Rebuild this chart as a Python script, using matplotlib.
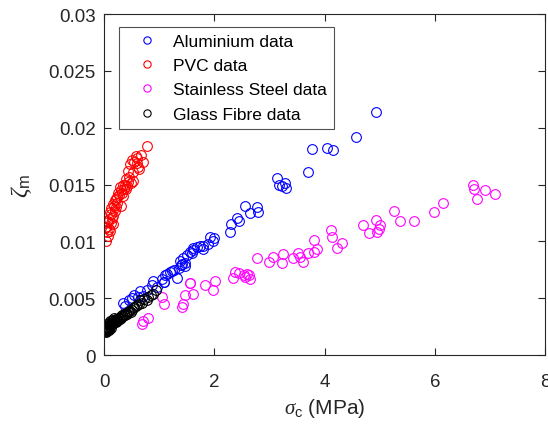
import matplotlib
matplotlib.use("Agg")
import matplotlib.pyplot as plt

plt.rcParams['font.family'] = ['Liberation Sans', 'DejaVu Sans']
plt.rcParams['mathtext.fontset'] = 'custom'
plt.rcParams['mathtext.rm'] = 'Liberation Sans'
plt.rcParams['mathtext.it'] = 'Liberation Serif:italic'

# Aluminium
al_x = [4.94, 4.57, 3.78, 4.04, 4.15, 3.70, 3.14, 3.18, 3.28, 3.30, 3.22,
        2.56, 2.77, 2.79, 2.65, 2.41, 2.44, 2.30, 2.28,
        1.93, 1.98, 1.89, 1.79, 1.80, 1.62, 1.59, 1.50, 1.44, 1.41, 1.47, 1.35,
        1.26, 1.32, 1.14, 1.09, 1.05, 0.89, 1.08, 0.96, 0.77, 0.65, 0.71, 0.62,
        0.38, 0.35, 1.23, 1.62, 1.74, 1.55, 1.68, 1.37, 1.40, 1.46, 1.19, 1.11,
        0.50, 0.55, 0.45, 0.87, 2.00]
al_y = [0.0214, 0.0192, 0.0181, 0.0182, 0.0180, 0.0161, 0.0156, 0.0150, 0.0151, 0.0147, 0.0149,
        0.0131, 0.0130, 0.0126, 0.0125, 0.0121, 0.0118, 0.0115, 0.0108,
        0.0104, 0.0100, 0.0098, 0.0096, 0.0093, 0.0094, 0.0090, 0.0088, 0.0085, 0.0080, 0.0078, 0.0077,
        0.0075, 0.0068, 0.0071, 0.0064, 0.0067, 0.0065, 0.0064, 0.0060, 0.0057, 0.0056, 0.0052, 0.0051,
        0.0043, 0.0046, 0.0074, 0.0092, 0.0096, 0.0091, 0.0095, 0.0083, 0.0079, 0.0081, 0.0073, 0.0070,
        0.0050, 0.0053, 0.0048, 0.0062, 0.0103]

# PVC
pvc_x = [0.78, 0.67, 0.57, 0.50, 0.62, 0.47, 0.44, 0.53, 0.44, 0.34, 0.28, 0.40, 0.25,
         0.34, 0.22, 0.31, 0.16, 0.19, 0.10, 0.15, 0.07, 0.16, 0.01, 0.10, 0.07, 0.04,
         0.38, 0.42, 0.36, 0.30, 0.32, 0.27, 0.23, 0.20, 0.24, 0.18, 0.13, 0.21, 0.12,
         0.17, 0.09, 0.05, 0.12, 0.03, 0.08, 0.06, 0.48, 0.55, 0.60, 0.70, 0.52, 0.40,
         0.46, 0.64, 0.59]
pvc_y = [0.0184, 0.0176, 0.0175, 0.0172, 0.0165, 0.0168, 0.0162, 0.0153, 0.0152, 0.0150, 0.0148, 0.0146, 0.0143,
         0.0140, 0.0137, 0.0131, 0.0133, 0.0127, 0.0126, 0.0121, 0.0117, 0.0115, 0.0112, 0.0109, 0.0105, 0.0100,
         0.0150, 0.0149, 0.0146, 0.0145, 0.0143, 0.0141, 0.0139, 0.0136, 0.0134, 0.0131, 0.0129, 0.0130, 0.0124,
         0.0122, 0.0120, 0.0118, 0.0116, 0.0113, 0.0111, 0.0108, 0.0151, 0.0170, 0.0173, 0.0170, 0.0161, 0.0155,
         0.0157, 0.0164, 0.0169]

# Stainless steel
ss_x = [7.09, 6.91, 6.77, 6.70, 6.71, 6.15, 5.98, 5.62, 5.37, 5.26, 5.00, 4.93, 4.99, 4.96,
        4.81, 4.69, 4.31, 4.23, 4.13, 4.11, 3.80, 3.87, 3.80, 3.70, 3.52, 3.43, 3.55, 3.60,
        3.24, 3.22, 2.78, 3.00, 3.07, 2.38, 2.33, 2.53, 2.60, 2.65, 2.45, 2.56, 2.62,
        2.01, 1.83, 1.97, 1.56, 1.47, 1.62, 1.44, 1.41, 1.05, 1.08, 0.80, 0.71, 0.68, 1.55]
ss_y = [0.0142, 0.0145, 0.0137, 0.0150, 0.0146, 0.0134, 0.0126, 0.0118, 0.0118, 0.0127, 0.0114, 0.0119, 0.0111, 0.0108,
        0.0107, 0.0114, 0.0099, 0.0094, 0.0104, 0.0110, 0.0101, 0.0093, 0.0091, 0.0090, 0.0090, 0.0085, 0.0086, 0.0082,
        0.0089, 0.0081, 0.0085, 0.0082, 0.0086, 0.0073, 0.0068, 0.0070, 0.0071, 0.0067, 0.0072, 0.0069, 0.0070,
        0.0065, 0.0062, 0.0057, 0.0063, 0.0053, 0.0054, 0.0045, 0.0042, 0.0051, 0.0045, 0.0033, 0.0030, 0.0027, 0.0063]

# Glass fibre
gf_x = [0.01, 0.02, 0.03, 0.04, 0.05, 0.06, 0.07, 0.08, 0.09, 0.10, 0.11, 0.12, 0.13, 0.14,
        0.15, 0.16, 0.17, 0.18, 0.19, 0.20, 0.21, 0.22, 0.23, 0.24, 0.25, 0.27, 0.28, 0.30,
        0.31, 0.33, 0.34, 0.36, 0.38, 0.40, 0.42, 0.44, 0.46, 0.48, 0.50, 0.53, 0.55, 0.58,
        0.60, 0.63, 0.65, 0.68, 0.72, 0.77, 0.80, 0.85, 0.89, 0.95, 0.03, 0.06, 0.09, 0.12,
        0.02, 0.05, 0.08, 0.15, 0.18, 0.11]
gf_y = [0.0021, 0.0023, 0.0022, 0.0024, 0.0022, 0.0025, 0.0023, 0.0026, 0.0024, 0.0027, 0.0025, 0.0028, 0.0026, 0.0029,
        0.0027, 0.0029, 0.0028, 0.0030, 0.0029, 0.0031, 0.0029, 0.0032, 0.0030, 0.0032, 0.0031, 0.0033, 0.0032, 0.0034,
        0.0033, 0.0035, 0.0034, 0.0036, 0.0035, 0.0037, 0.0036, 0.0038, 0.0039, 0.0038, 0.0040, 0.0041, 0.0042, 0.0043,
        0.0044, 0.0045, 0.0048, 0.0046, 0.0049, 0.0048, 0.0051, 0.0053, 0.0054, 0.0057, 0.0020, 0.0021, 0.0022, 0.0024,
        0.0025, 0.0027, 0.0028, 0.0031, 0.0033, 0.0030]

x_ticks = [0, 2, 4, 6, 8]
y_ticks = [0, 0.005, 0.01, 0.015, 0.02, 0.025, 0.03]
y_tick_labels = ['0', '0.005', '0.01', '0.015', '0.02', '0.025', '0.03']

fig = plt.figure(figsize=(5.48, 4.31), dpi=100)
ax = fig.add_axes([0.19, 0.174, 0.8045, 0.791])

mk = dict(linestyle='none', marker='o', markerfacecolor='none',
          markersize=7, markeredgewidth=0.8)
ax.plot(al_x, al_y, markeredgecolor='#0000ff', label='Aluminium data', **mk)
ax.plot(pvc_x, pvc_y, markeredgecolor='#ff0000', label='PVC data', **mk)
ax.plot(ss_x, ss_y, markeredgecolor='#ff00ff', label='Stainless Steel data', **mk)
ax.plot(gf_x, gf_y, markeredgecolor='#000000', label='Glass Fibre data', **mk)

ax.set_xlim(0, 8)
ax.set_ylim(0, 0.03)
ax.set_xticks(x_ticks)
ax.set_yticks(y_ticks)
ax.set_yticklabels(y_tick_labels)

axis_col = '#262626'
for s in ax.spines.values():
    s.set_color(axis_col)
    s.set_linewidth(0.8)
ax.tick_params(direction='in', length=5, width=0.8, colors=axis_col,
               labelsize=13.5, top=True, right=True, pad=6)
ax.tick_params(axis='x', pad=13)

ax.set_xlabel(r'$\sigma_{\mathrm{c}}$ (MPa)', fontsize=15, color=axis_col)
ax.xaxis.set_label_coords(0.5, -0.12)
ax.set_ylabel(r'$\zeta_{\mathrm{m}}$', fontsize=17, color=axis_col)
ax.yaxis.set_label_coords(-0.158, 0.5)

leg = ax.legend(loc='upper left', bbox_to_anchor=(0.034, 0.962), borderaxespad=0,
                fontsize=12.5, frameon=True, fancybox=False, markerscale=0.75,
                handlelength=2.4, handletextpad=0.3, labelspacing=0.52,
                borderpad=0.4)
leg.get_frame().set_edgecolor('#262626')
leg.get_frame().set_linewidth(0.8)

fig.savefig('out.png', dpi=100)
